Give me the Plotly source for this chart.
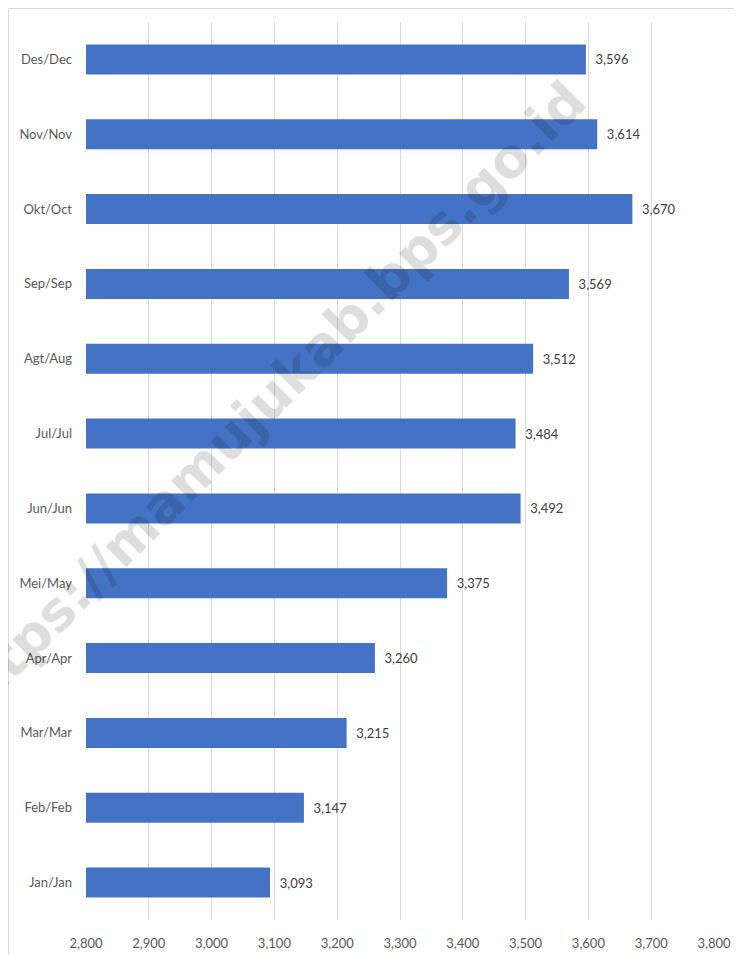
import plotly.graph_objects as go

months = ["Jan/Jan", "Feb/Feb", "Mar/Mar", "Apr/Apr", "Mei/May", "Jun/Jun",
          "Jul/Jul", "Agt/Aug", "Sep/Sep", "Okt/Oct", "Nov/Nov", "Des/Dec"]
values = [3093, 3147, 3215, 3260, 3375, 3492, 3484, 3512, 3569, 3670, 3614, 3596]
x_ticks = [2800, 2900, 3000, 3100, 3200, 3300, 3400, 3500, 3600, 3700, 3800]
watermark = "https://mamujukab.bps.go.id"

OFF = 8  # page body margin
W, H = 742 - OFF, 955 - OFF
L, T = 86 - OFF, 22 - OFF
pw, ph = 628, 898
R, B = W - L - pw, H - T - ph

def px_x(p):  # screen px -> paper
    return (p - OFF - L) / pw

def px_y(p):
    return (T + ph - (p - OFF)) / ph

FONT = "Lato, Open Sans, sans-serif"

fig = go.Figure()
fig.add_trace(go.Bar(
    y=months, x=values, orientation="h",
    marker=dict(color="#4472C4", line=dict(width=0)),
    width=0.4,
    text=["\u00a0\u00a0" + f"{v:,}" for v in values],
    textposition="outside",
    textfont=dict(family=FONT, size=13, color="#404040"),
    cliponaxis=False,
))

fig.update_layout(
    width=W, height=H,
    margin=dict(l=L, r=R, t=T, b=B, autoexpand=False),
    plot_bgcolor="rgba(0,0,0,0)", paper_bgcolor="white",
    showlegend=False,
    font=dict(family=FONT, size=13, color="#595959"),
    xaxis=dict(
        range=[2800, 3800], tickvals=x_ticks,
        ticktext=[f"{v:,}" for v in x_ticks],
        showgrid=True, gridcolor="#d9d9d9", gridwidth=1,
        zeroline=False, showline=False, ticks="",
        tickfont=dict(family=FONT, size=13, color="#595959"),
        automargin=False, ticklabelstandoff=14,
    ),
    yaxis=dict(
        showgrid=False, zeroline=False, showline=False, ticks="",
        tickfont=dict(family=FONT, size=13, color="#595959"),
        ticklabelstandoff=13, automargin=False,
    ),
    bargap=0.6,
)

fig.add_shape(type="rect", xref="paper", yref="paper",
              x0=px_x(8.5), x1=px_x(760), y0=px_y(975), y1=px_y(8.5),
              line=dict(color="#d9d9d9", width=1), fillcolor="rgba(0,0,0,0)",
              layer="below")

cx, cy, d = 262, 400, 300
fig.add_shape(
    type="line", xref="paper", yref="paper",
    x0=px_x(cx - d), y0=px_y(cy + d), x1=px_x(cx + d), y1=px_y(cy - d),
    line=dict(width=0, color="rgba(0,0,0,0)"),
    layer="above",
    label=dict(
        text=watermark, textposition="middle", textangle=-45,
        xanchor="center", yanchor="middle",
        font=dict(family="DejaVu Sans, sans-serif", size=54,
                  color="rgba(0,0,0,0.13)", weight="bold"),
    ),
)

fig.write_html("out.html")
